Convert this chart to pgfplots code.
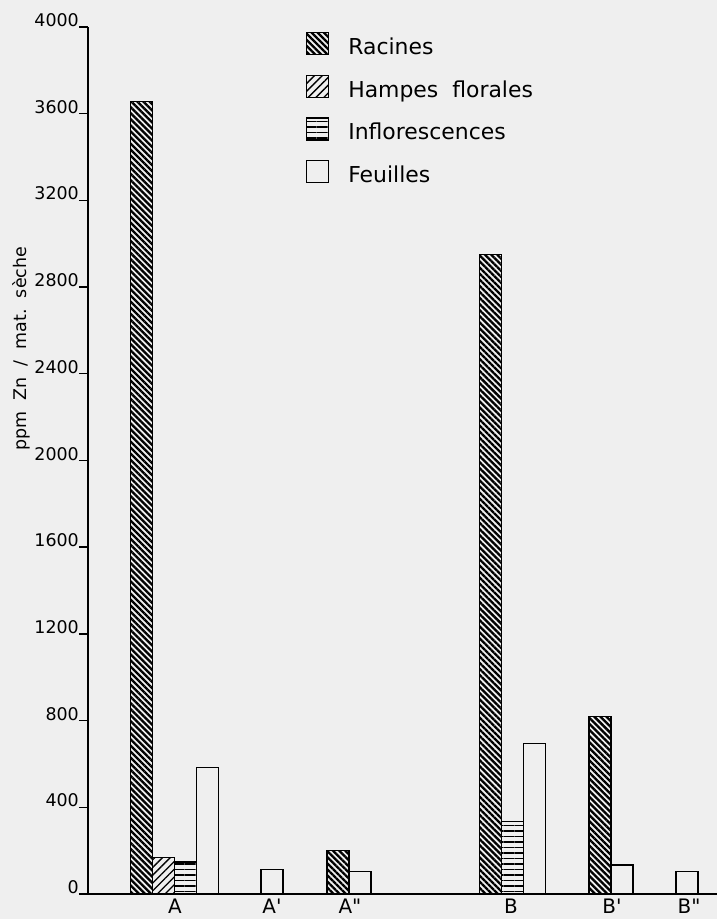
\documentclass[border=0pt]{standalone}
\usepackage{fontspec}
\setmainfont{DejaVu Sans}
\usepackage{pgfplots}
\pgfplotsset{compat=1.18}
\usetikzlibrary{patterns.meta}
\definecolor{paper}{RGB}{239,239,239}
\begin{document}
\begin{tikzpicture}
\fill[paper] (-88bp,-25bp) rectangle (629bp,894bp);
\path[use as bounding box] (-88bp,-25bp) rectangle (629bp,894bp);
\begin{axis}[
  at={(0,0)}, anchor=south west,
  scale only axis, width=629bp, height=867bp,
  xmin=88, xmax=717, ymin=0, ymax=4000,
  axis lines=left, axis line style={line width=1.6bp, -},
  ytick={0,400,...,4000},
  tick align=outside, major tick length=9bp,
  ytick style={line width=1.4bp, black},
  xtick={175,272,350,511,612,689},
  xticklabels={A, A\textquotesingle, A\textquotedbl, B, B\textquotesingle, B\textquotedbl},
  xtick style={draw=none},
  x tick label style={font=\fontsize{20}{20}\selectfont, anchor=north, inner sep=0pt, yshift=4bp},
  y tick label style={font=\fontsize{17.5}{17.5}\selectfont, anchor=south east, inner sep=0pt, xshift=0bp},
  /pgf/number format/assume math mode=true,
  /pgf/number format/1000 sep={},
  ylabel={ppm~~Zn~~/~~mat.~~sèche},
  ylabel style={font=\fontsize{17.5}{17.5}\selectfont, at={(axis description cs:-0.106,0.629)}, anchor=center},
  legend image code/.code={\draw[#1, line width=1.3bp] (0bp,0bp) rectangle (22bp,22bp);},
  legend style={at={(axis description cs:0.3466,0.9942)}, anchor=north west, draw=none, fill=none,
    font=\fontsize{22}{22}\selectfont, row sep=14bp, column sep=18bp, inner sep=0pt, outer sep=0pt,
    cells={anchor=base west}, nodes={inner sep=1bp, text height=16bp, text depth=5bp}},
]
\addplot[ybar, bar width=22, bar shift=0pt, draw=black, line width=1.3bp,
  pattern={Lines[angle=-45,distance=4.3bp,line width=2.3bp]}]
  coordinates {(141.5,3655) (338,200) (490.5,2950) (600,820)};
\addlegendentry{Racines}
\addplot[ybar, bar width=22, bar shift=0pt, draw=black, line width=1.3bp,
  pattern={Lines[angle=45,distance=5.5bp,line width=1.3bp]}]
  coordinates {(163.5,168)};
\addlegendentry{Hampes\ \ florales}
\addplot[ybar, bar width=22, bar shift=0pt, draw=black, line width=1.3bp,
  pattern={Lines[angle=0,distance=5.5bp,line width=1.4bp]}]
  coordinates {(185.5,148) (512.5,333)};
\addlegendentry{Inflorescences}
\addplot[ybar, bar width=22, bar shift=0pt, draw=black, line width=1.3bp, fill=none]
  coordinates {(207.5,583) (272,114) (360,105) (534.5,693) (622,134) (687,104)};
\addlegendentry{Feuilles}
\end{axis}
\end{tikzpicture}
\end{document}
